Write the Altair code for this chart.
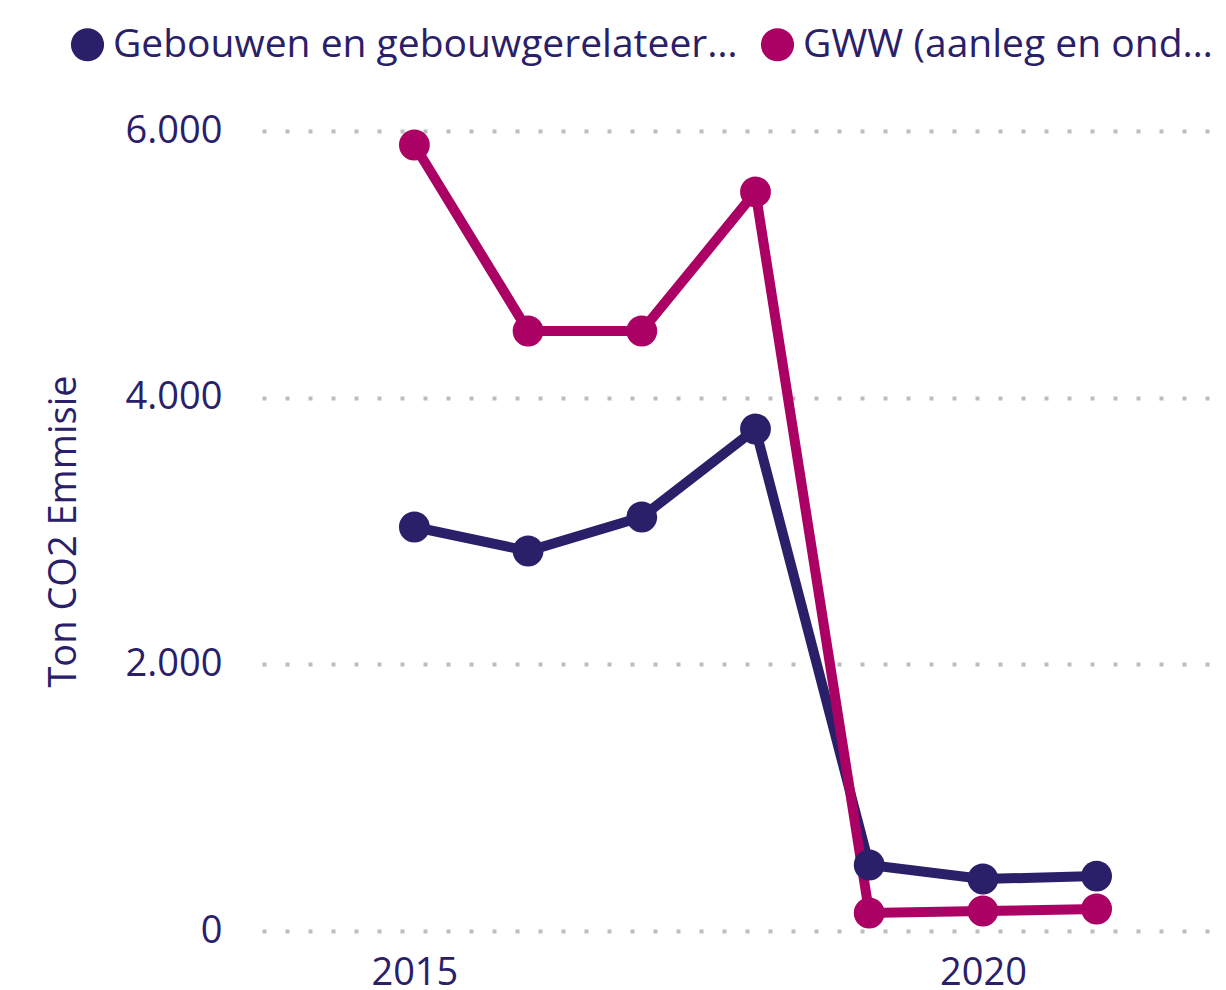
import altair as alt
import pandas as pd

years = [2015, 2016, 2017, 2018, 2019, 2020, 2021]
series_names = ["Gebouwen en gebouwgerelateer…", "GWW (aanleg en ond…"]
gebouwen = [3030, 2850, 3105, 3765, 495, 390, 412]
gww = [5895, 4500, 4500, 5543, 135, 150, 165]
colors = ["#2A206A", "#AB0064"]
y_ticks = [0, 2000, 4000, 6000]
x_ticks = [2015, 2020]

rows = []
for name, vals in zip(series_names, [gebouwen, gww]):
    for yr, v in zip(years, vals):
        rows.append({"Jaar": yr, "Emissie": v, "Categorie": name})
df = pd.DataFrame(rows)

text_color = "#2A206A"
font = "Open Sans"

x = alt.X(
    "Jaar:Q",
    scale=alt.Scale(domain=[2013.66, 2022.05], nice=False, zero=False),
    axis=alt.Axis(
        values=x_ticks, format="d", title=None, grid=False, domain=False,
        ticks=False, labelFontSize=38, labelColor=text_color, labelFont=font,
        labelPadding=23,
    ),
)
y = alt.Y(
    "Emissie:Q",
    scale=alt.Scale(domain=[0, 6000], nice=False),
    axis=alt.Axis(
        values=y_ticks, title="Ton CO2 Emmisie", grid=True, domain=False,
        ticks=False, labelFontSize=38, labelColor=text_color, labelFont=font,
        labelExpr="replace(format(datum.value, ','), ',', '.')",
        labelPadding=40, titleFontSize=38, titleFont=font, titleColor=text_color,
        titleFontWeight="normal", titlePadding=42,
        gridColor="#bdbdbd", gridWidth=4, gridDash=[4, 19],
    ),
)
color = alt.Color(
    "Categorie:N",
    scale=alt.Scale(domain=series_names, range=colors),
    legend=alt.Legend(
        orient="none", legendX=-194, legendY=-106, direction="horizontal",
        title=None, symbolType="circle", symbolSize=1100,
        symbolStrokeWidth=0, labelFontSize=39, labelFont=font,
        labelColor=text_color, labelLimit=1000, labelOffset=6,
        columnPadding=20,
    ),
)

base = alt.Chart(df).encode(x=x, y=y, color=color)
lines = base.mark_line(strokeWidth=10)
points = base.mark_point(filled=True, size=950, opacity=1, shape="circle")

chart = (
    alt.layer(lines, points)
    .properties(
        width=954, height=800,
        autosize=alt.AutoSizeParams(type="none"),
        padding={"left": 254, "top": 123, "right": 2, "bottom": 59},
    )
    .configure(font=font)
    .configure_view(stroke=None, strokeWidth=0)
)

chart.save("out.html", embed_options={"renderer": "svg", "actions": False})
